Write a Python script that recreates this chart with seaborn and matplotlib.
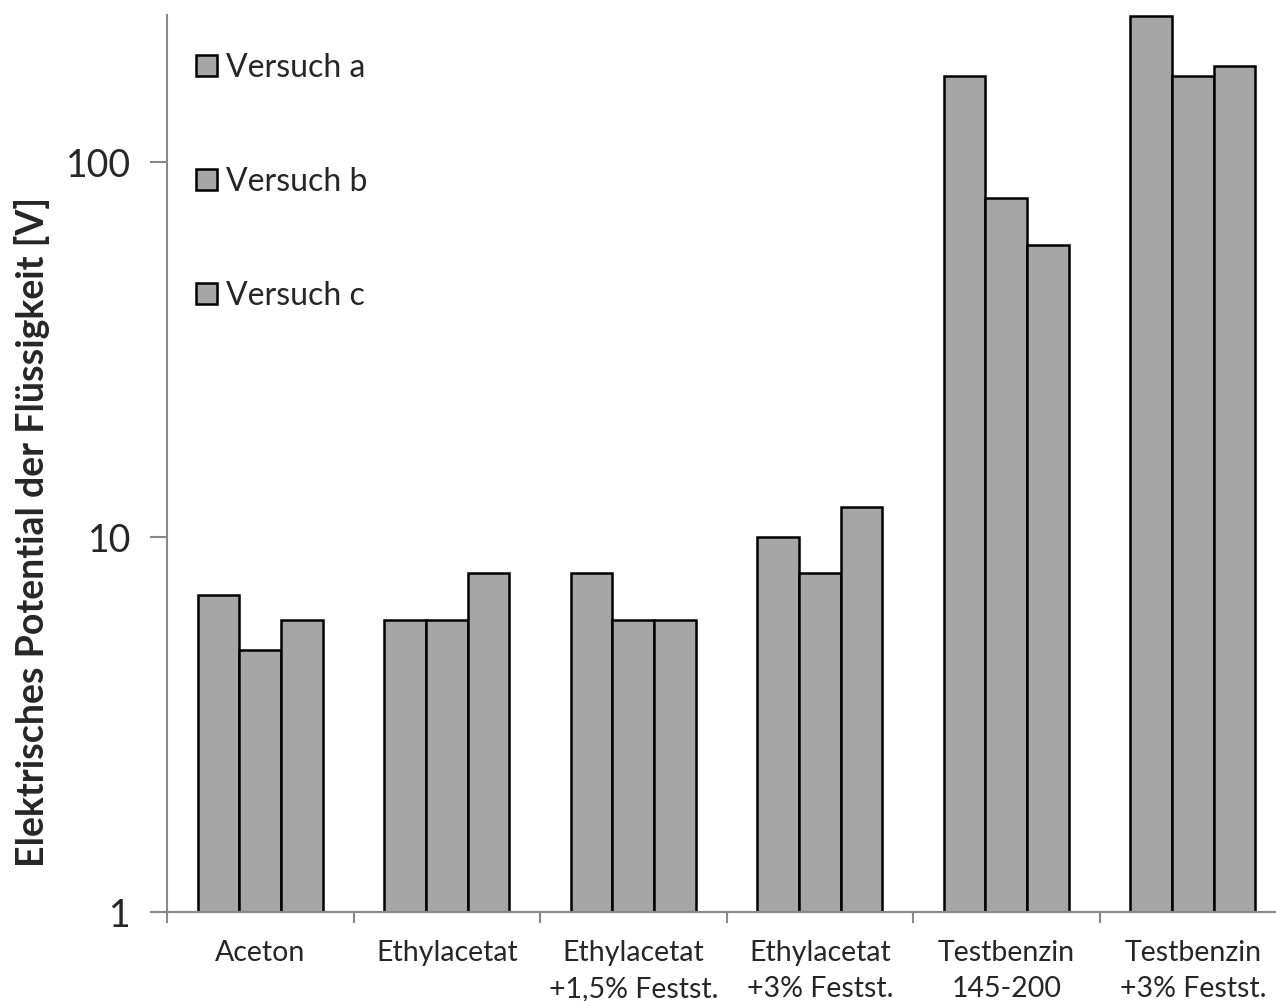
import matplotlib.pyplot as plt
import seaborn as sns
import pandas as pd
from matplotlib.ticker import FixedLocator, NullLocator, NullFormatter

# categories and measured potentials [V]
categories = ["Aceton", "Ethylacetat", "Ethylacetat\n+1,5% Festst.",
              "Ethylacetat\n+3% Festst.", "Testbenzin\n145-200", "Testbenzin\n+3% Festst."]
series_names = ["Versuch a", "Versuch b", "Versuch c"]
versuch_a = [7, 6, 8, 10, 170, 246]
versuch_b = [5, 6, 6, 8, 80, 170]
versuch_c = [6, 8, 6, 12, 60, 180]

rows = []
for name, vals in zip(series_names, [versuch_a, versuch_b, versuch_c]):
    for cat, v in zip(categories, vals):
        rows.append({"cat": cat, "val": v, "versuch": name})
df = pd.DataFrame(rows)

sns.set_style("white")
plt.rcParams["font.family"] = ["Lato", "DejaVu Sans"]

fig = plt.figure(figsize=(12.76, 10.01), dpi=100)
ax = fig.add_axes([0.1309, 0.0889, 0.877, 0.896])

sns.barplot(data=df, x="cat", y="val", hue="versuch", order=categories,
            hue_order=series_names, palette=["#A6A6A6"] * 3,
            edgecolor="black", linewidth=1.8, width=0.67, ax=ax)
ax.set_yscale("log")

ax.set_ylim(1, 246.6)
ax.set_xlim(-0.5, len(categories) - 0.5)

# x ticks: boundaries as ticks, labels at centres
ax.xaxis.set_major_locator(FixedLocator([i - 0.5 for i in range(len(categories) + 1)]))
ax.xaxis.set_major_formatter(NullFormatter())
ax.set_xticks(range(len(categories)), categories, minor=True)
ax.tick_params(axis="x", which="major", direction="out", length=8, width=1.5,
               color="#888888", bottom=True)
ax.tick_params(axis="x", which="minor", length=0, pad=20, labelsize=20.5)
for lbl in ax.get_xticklabels(minor=True):
    lbl.set_linespacing(1.5)

ax.yaxis.set_major_locator(FixedLocator([1, 10, 100]))
ax.yaxis.set_minor_locator(NullLocator())
ax.set_yticklabels(["1", "10", "100"])
ax.tick_params(axis="y", which="major", direction="out", length=12, width=1.5,
               color="#888888", left=True, pad=14, labelsize=27)

for side in ["top", "right"]:
    ax.spines[side].set_visible(False)
for side in ["left", "bottom"]:
    ax.spines[side].set_color("#888888")
    ax.spines[side].set_linewidth(1.5)

ax.set_xlabel("")
ax.set_ylabel("Elektrisches Potential der Flüssigkeit [V]", fontsize=27,
              fontweight="bold")
ax.yaxis.set_label_coords(-0.105, 0.424)

leg = ax.legend(loc="upper left", bbox_to_anchor=(0.0, 0.99), frameon=False,
                fontsize=23, labelspacing=2.63, handlelength=0.65,
                handleheight=0.65, handletextpad=0.3)
for h in leg.legend_handles:
    h.set_edgecolor("black")
    h.set_linewidth(1.8)

fig.savefig("out.png", dpi=100)
